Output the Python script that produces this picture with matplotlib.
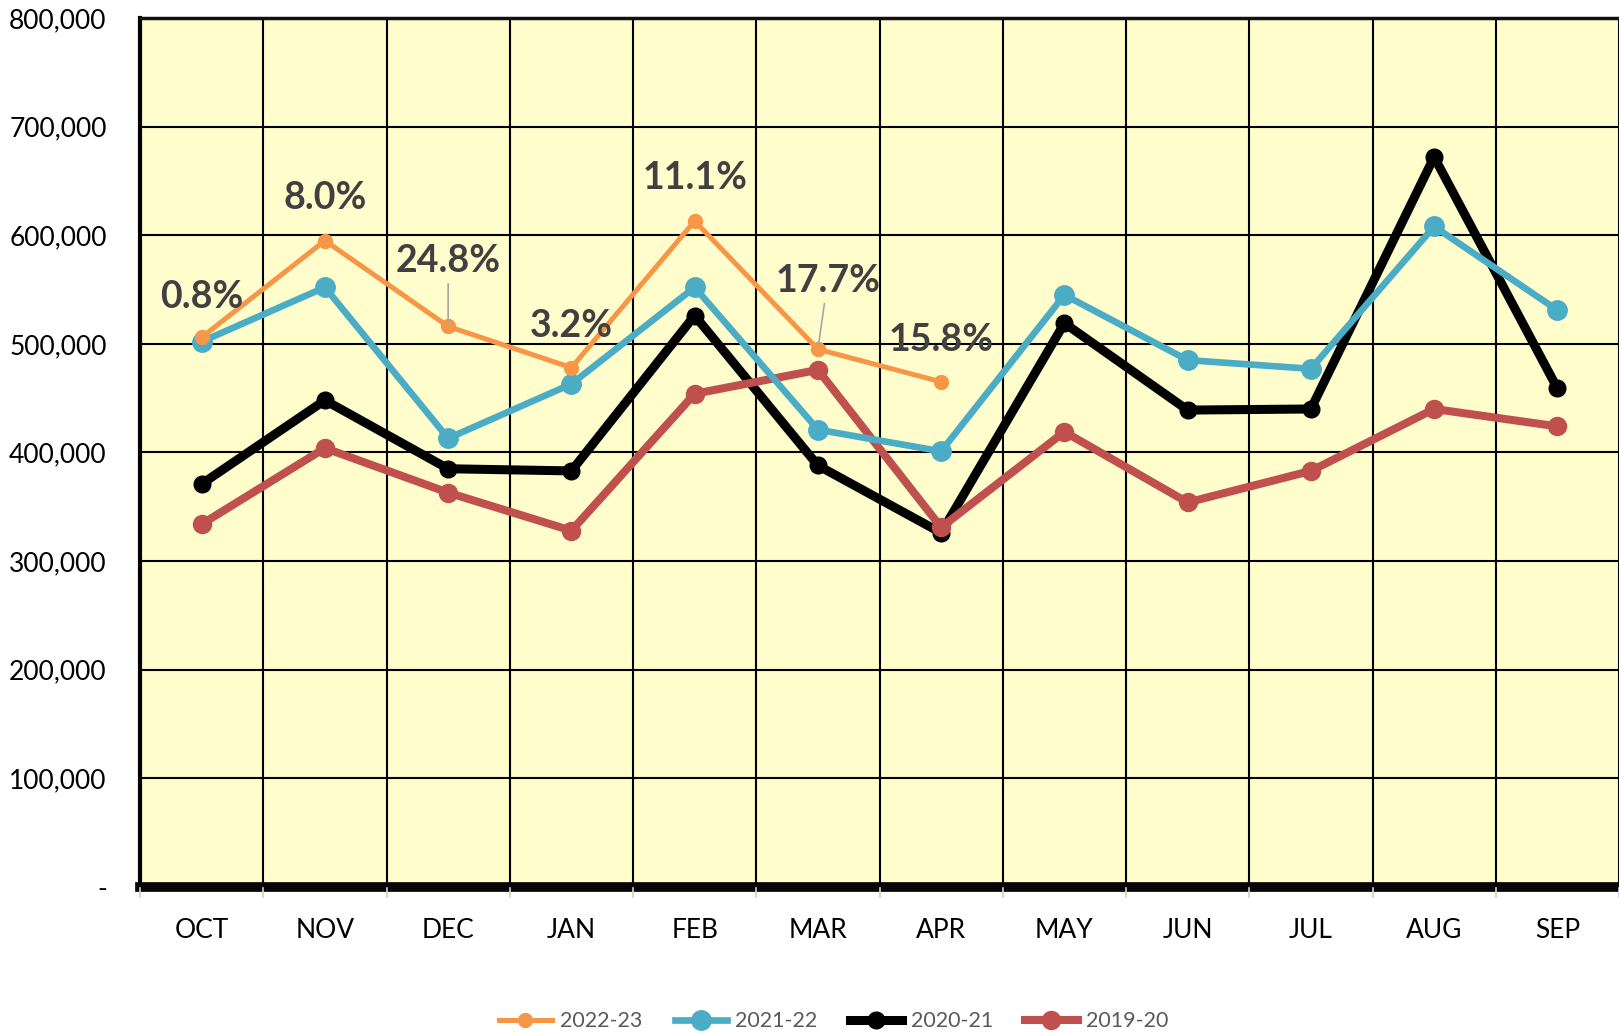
import matplotlib
matplotlib.use("Agg")
import matplotlib.pyplot as plt
import matplotlib.transforms as mtransforms
import numpy as np
from matplotlib.ticker import FuncFormatter

months = ["OCT", "NOV", "DEC", "JAN", "FEB", "MAR", "APR",
          "MAY", "JUN", "JUL", "AUG", "SEP"]

fy2022_23 = [506000, 595000, 516000, 478000, 613000, 495000, 465000]
fy2021_22 = [502000, 552000, 413000, 463000, 552000, 421000, 401000,
             545000, 485000, 477000, 608000, 531000]
fy2020_21 = [371000, 448000, 385000, 383000, 526000, 388000, 326000,
             519000, 439000, 440000, 672000, 459000]
fy2019_20 = [334000, 404000, 363000, 328000, 454000, 476000, 331000,
             419000, 354000, 383000, 440000, 424000]

growth_labels = ["0.8%", "8.0%", "24.8%", "3.2%", "11.1%", "17.7%", "15.8%"]

plt.rcParams['font.family'] = ['Lato', 'DejaVu Sans']

fig = plt.figure(figsize=(16.19, 10.35), dpi=100)
ax = fig.add_axes([0.0865, 0.143, 0.9135, 0.8397])
ax.set_facecolor("#FFFDCC")

x_all = np.arange(len(months))

series = [
    ("2022-23", fy2022_23, "#F79646", 3.6, 10),
    ("2021-22", fy2021_22, "#4BACC6", 4.8, 14),
    ("2020-21", fy2020_21, "#000000", 6.5, 12),
    ("2019-20", fy2019_20, "#C0504D", 5.8, 13),
]
z = {"2022-23": 6, "2021-22": 5, "2020-21": 4, "2019-20": 4.5}
for name, vals, col, lw, ms in series:
    ax.plot(x_all[:len(vals)], vals, color=col, lw=lw, marker="o", ms=ms,
            label=name, zorder=z[name], solid_joinstyle="round")

# growth labels (label centre offsets in points from the 2022-23 points)
offsets = [(0, 29), (0, 31), (0, 47), (0, 30), (0, 31), (7, 49), (0, 30)]
leaders = [False, False, True, False, False, True, False]
for i, (lab, off, lead) in enumerate(zip(growth_labels, offsets, leaders)):
    ax.annotate(lab, xy=(i, fy2022_23[i]), xytext=off, textcoords="offset points",
                ha="center", va="center",
                fontsize=27, fontweight="bold", color="#404040", zorder=8,
                arrowprops=dict(arrowstyle="-", color="#A6A6A6", lw=1.2,
                                shrinkA=2, shrinkB=3) if lead else None)

ax.set_xlim(-0.5, 11.5)
ax.set_ylim(0, 800000)
ax.set_yticks(np.arange(0, 800001, 100000))
ax.yaxis.set_major_formatter(FuncFormatter(lambda v, p: "-" if v == 0 else f"{int(v):,}"))
ax.set_xticks(x_all)
ax.set_xticklabels(months)
ax.set_xticks(np.arange(-0.5, 12, 1), minor=True)

ax.grid(True, which="major", axis="y", color="black", lw=1.5, zorder=1)
ax.grid(True, which="minor", axis="x", color="black", lw=1.5, zorder=1)
ax.set_axisbelow(True)

ax.tick_params(axis="y", which="both", length=0, pad=24, labelsize=19, labelcolor="black")
ax.tick_params(axis="x", which="major", length=0, pad=22, labelsize=19, labelcolor="black")
ax.tick_params(axis="x", which="minor", length=0)

ax.spines["right"].set_visible(False)
ax.spines["top"].set_linewidth(2.5)
ax.spines["top"].set_color("#111111")
ax.spines["left"].set_linewidth(3)
ax.spines["bottom"].set_linewidth(7)
ax.spines["bottom"].set_color("#050505")

# small light ticks across the thick floor bar
trans = mtransforms.blended_transform_factory(ax.transData, ax.transAxes)
for xb in np.arange(-0.5, 12, 1):
    ax.plot([xb, xb], [-0.011, -0.001], color="#D0D0D0", lw=1.2, transform=trans,
            clip_on=False, zorder=10)

leg = fig.legend(loc="center", bbox_to_anchor=(0.515, 0.0135), ncol=4, frameon=False,
                 fontsize=15.4, handlelength=2.45, columnspacing=1.5, handletextpad=0.4,
                 labelcolor="#595959")

fig.savefig("out.png", dpi=100)
